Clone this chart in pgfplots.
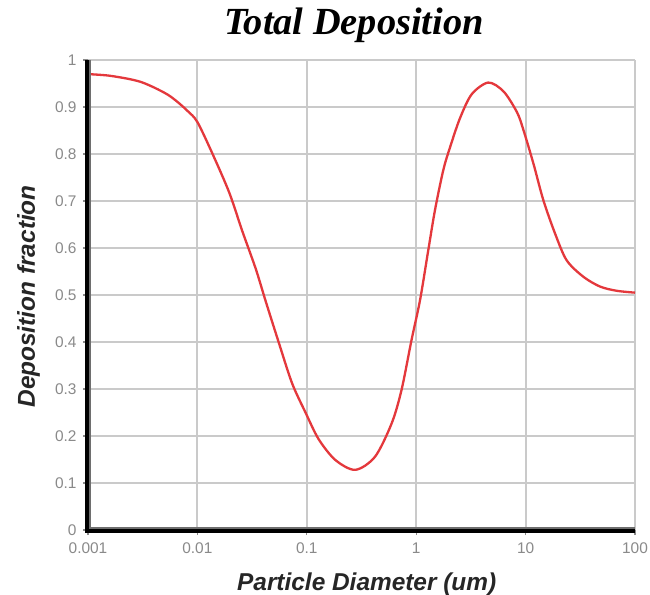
\documentclass[border=0pt]{standalone}
\usepackage{pgfplots}
\pgfplotsset{compat=1.18}
\usepackage{fontspec}
\setmainfont{Liberation Sans}
\newfontfamily\serifbi{Liberation Serif}
\definecolor{gridc}{RGB}{202,202,202}
\definecolor{curvec}{RGB}{228,56,60}
\definecolor{tickc}{RGB}{138,138,138}
\definecolor{labc}{RGB}{38,38,38}
\definecolor{innerc}{RGB}{110,110,110}

\pgfplotstableread{
x y
0.001 0.970
0.00152 0.967
0.00232 0.960
0.00307 0.953
0.00406 0.941
0.00538 0.926
0.00664 0.910
0.00818 0.891
0.01 0.868
0.01377 0.800
0.01954 0.718
0.02582 0.635
0.03412 0.556
0.04207 0.487
0.05559 0.398
0.07345 0.312
0.0973 0.250
0.1285 0.193
0.1824 0.149
0.2773 0.128
0.4207 0.156
0.597 0.227
0.7345 0.298
0.906 0.404
1.084 0.489
1.291 0.596
1.486 0.681
1.77 0.766
2.037 0.814
2.512 0.876
3.214 0.927
4.56 0.952
6.295 0.933
8.337 0.889
9.528 0.852
11.78 0.780
14.52 0.702
18.58 0.631
23.71 0.574
33.65 0.539
47.86 0.518
67.92 0.509
100 0.505
}\depo

\begin{document}
\begin{tikzpicture}
\fill[white] (-88bp,-65bp) rectangle (562bp,530bp);
\begin{axis}[
  at={(0,0)}, anchor=south west,
  scale only axis, width=547bp, height=470bp,
  xmode=log, log basis x=10,
  xmin=0.001, xmax=100, ymin=0, ymax=1,
  xtick={0.001,0.01,0.1,1,10,100},
  xticklabels={0.001,0.01,0.1,1,10,100},
  ytick={0,0.1,0.2,0.3,0.4,0.5,0.6,0.7,0.8,0.9,1},
  yticklabels={0,0.1,0.2,0.3,0.4,0.5,0.6,0.7,0.8,0.9,1},
  xminorticks=false, yminorticks=false,
  grid=major,
  major grid style={draw=gridc, line width=2bp},
  axis x line*=bottom, axis y line*=left,
  axis line style={draw=none},
  tick align=outside, major tick length=5bp,
  tick style={draw=tickc, line width=1.2bp},
  ticklabel style={font=\fontsize{15.5}{17}\selectfont, text=tickc},
  xticklabel style={yshift=-4bp},
  yticklabel style={xshift=-3bp},
  title={Total Deposition},
  title style={at={(axis description cs:0.486,1)}, anchor=base, yshift=20bp,
    font=\serifbi\bfseries\itshape\fontsize{38.5}{42}\selectfont, text=black},
  xlabel={Particle Diameter (um)},
  xlabel style={at={(axis description cs:0.5095,0)}, anchor=base, yshift=-60bp,
    font=\bfseries\itshape\fontsize{24.5}{28}\selectfont, text=labc},
  ylabel={Deposition fraction},
  ylabel style={at={(axis description cs:-0.0969,0.497)}, anchor=base,
    font=\bfseries\itshape\fontsize{24.5}{28}\selectfont, text=labc},
]
\addplot[curvec, line width=2.3bp, smooth, no marks] table[x=x, y=y] {\depo};
\end{axis}
\draw[innerc, line width=2.5bp] (1.75bp,470bp) -- (1.75bp,0bp);
\draw[innerc, line width=2.5bp] (0bp,1.75bp) -- (547bp,1.75bp);
\draw[black, line width=3.5bp] (-1.25bp,470bp) -- (-1.25bp,-3bp);
\draw[black, line width=3.5bp] (-3bp,-1.25bp) -- (547bp,-1.25bp);
\pgfresetboundingbox
\path[use as bounding box] (-88bp,-65bp) rectangle (562bp,530bp);
\end{tikzpicture}
\end{document}
